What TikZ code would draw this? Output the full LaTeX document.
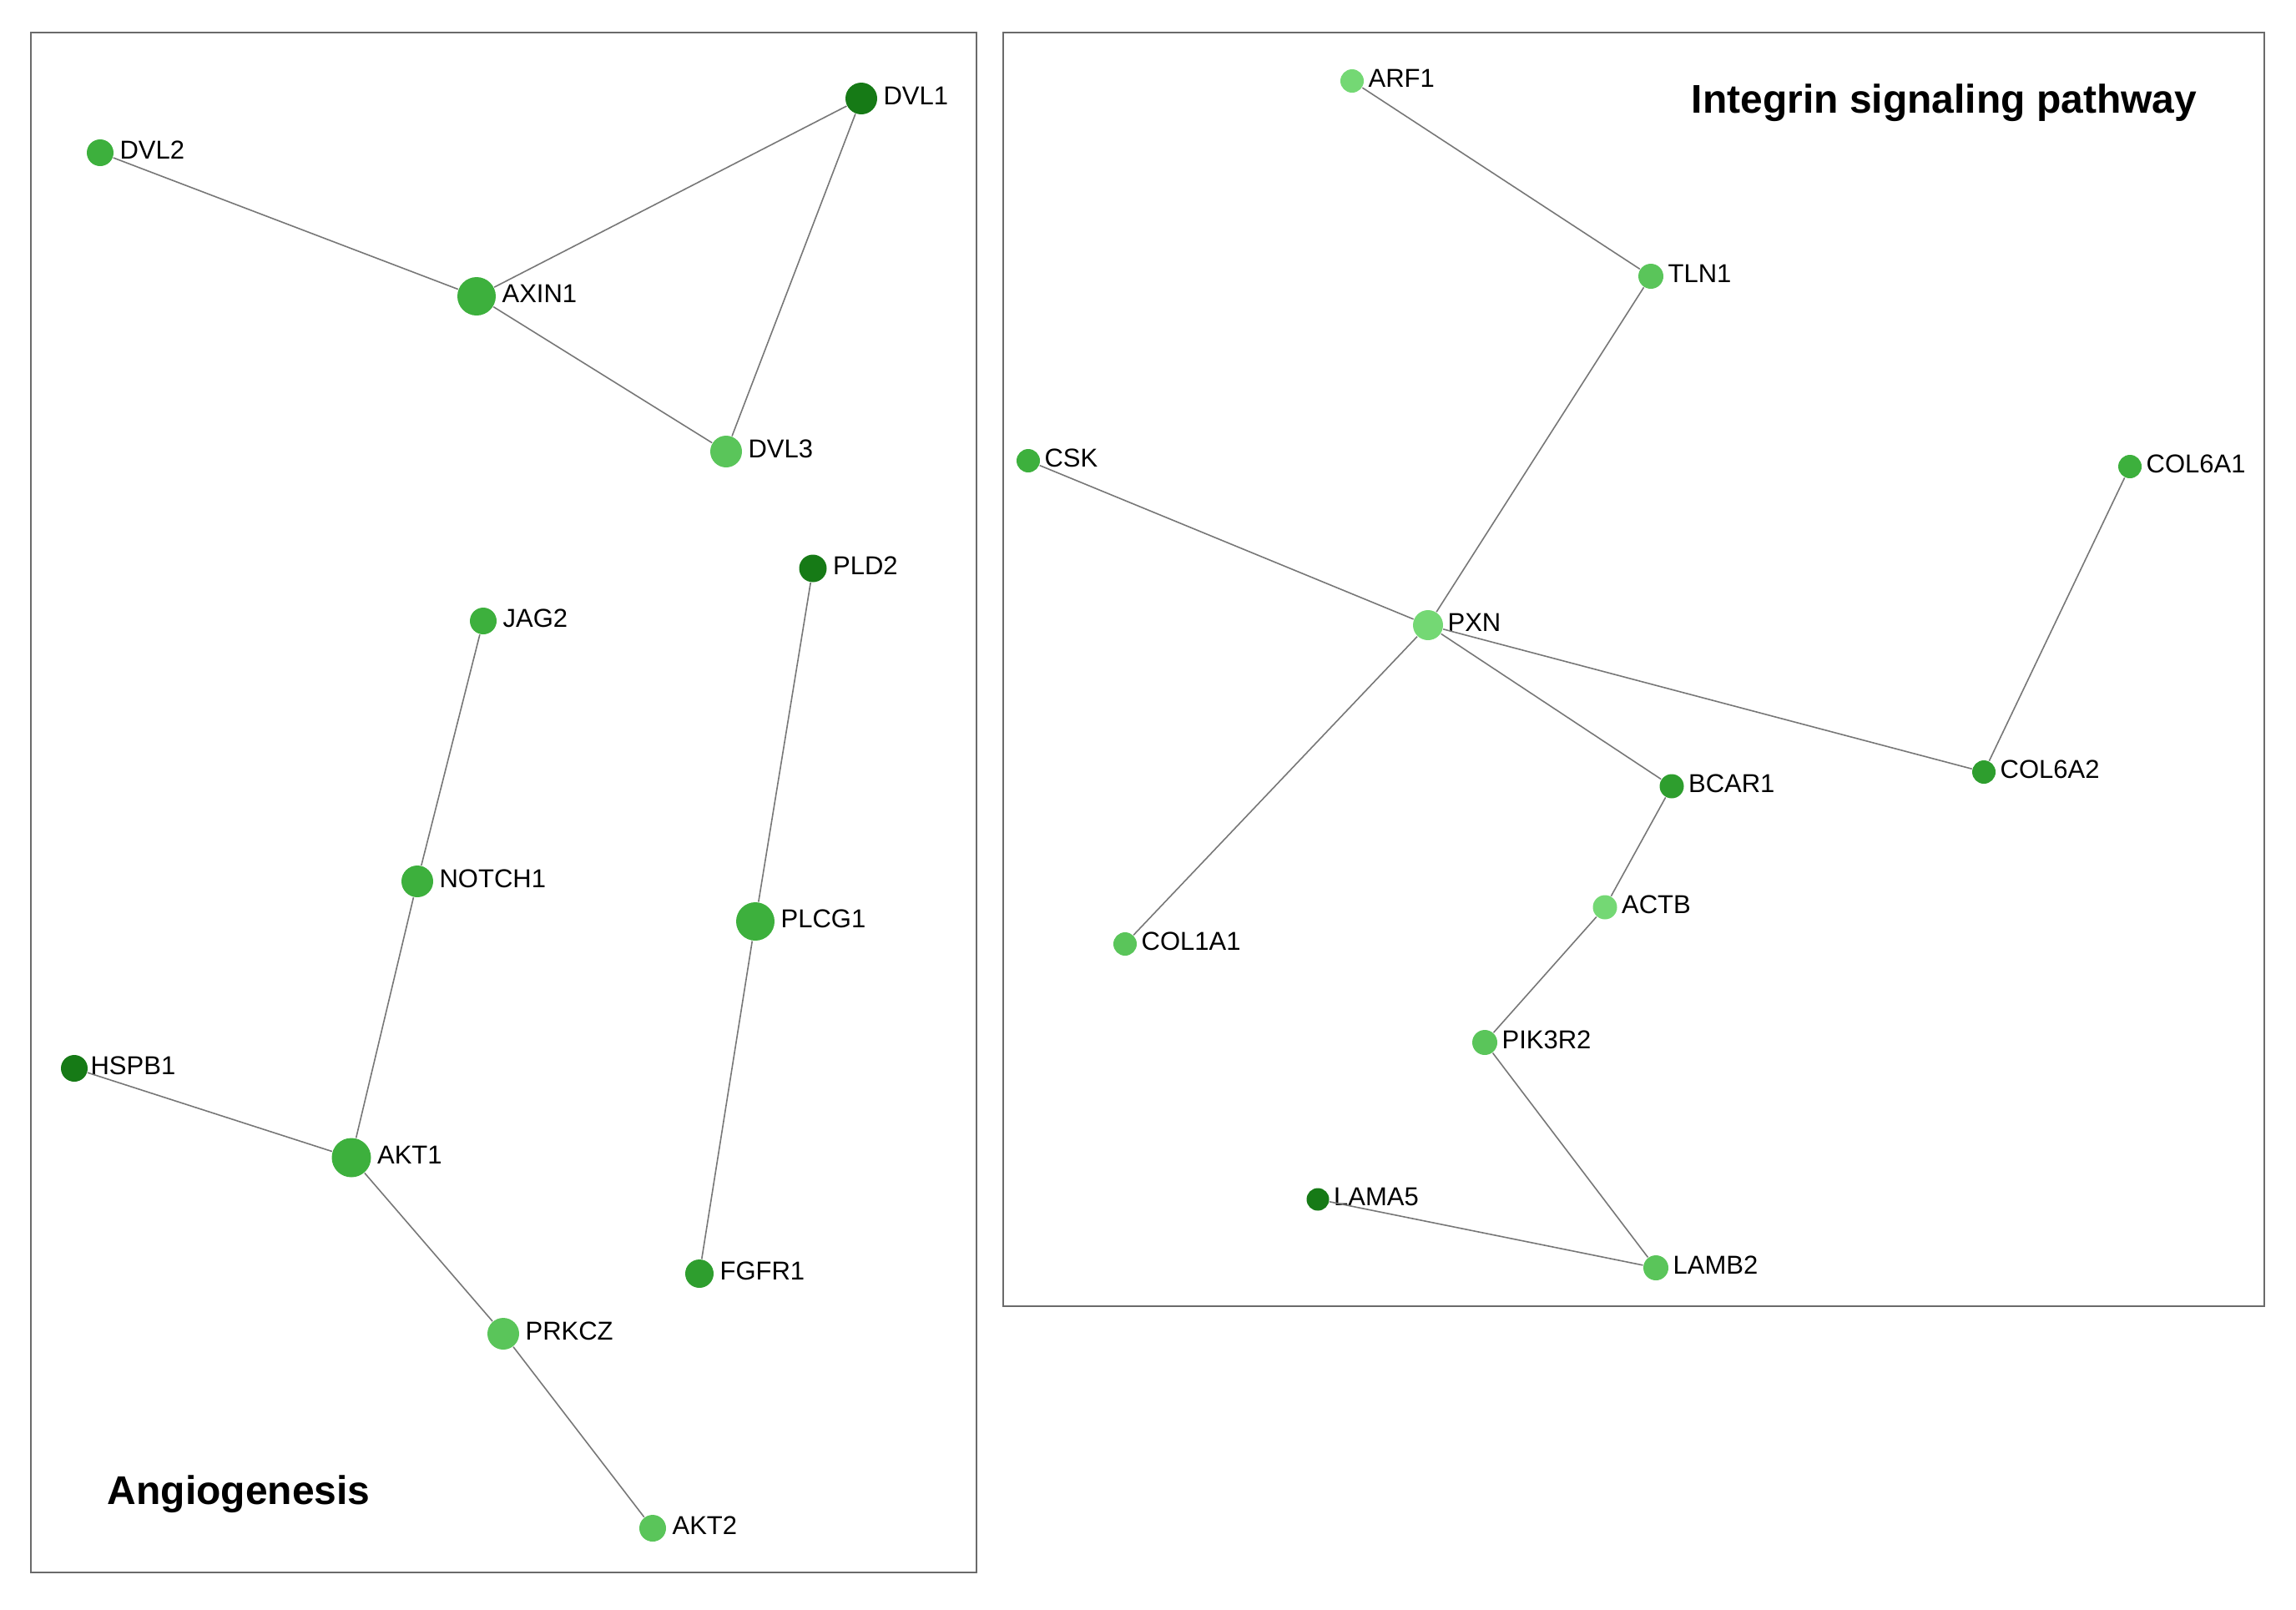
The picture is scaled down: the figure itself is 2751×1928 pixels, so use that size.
\documentclass[tikz,border=0pt]{standalone}
\usepackage{fontspec}
\setmainfont{Liberation Sans}
\definecolor{gDk}{HTML}{167A16}
\definecolor{gA}{HTML}{2E9E2E}
\definecolor{gB}{HTML}{3DB03D}
\definecolor{gC}{HTML}{5AC55A}
\definecolor{gD}{HTML}{74D874}
\definecolor{frameC}{HTML}{6A6A6A}
\definecolor{edgeC}{HTML}{777777}
\tikzset{
  gn/.style={circle, inner sep=0pt, draw=none, minimum size=#1*0.25pt},
  lbl/.style={font=\fontsize{7.75pt}{8pt}\selectfont, inner sep=0pt, text=black, yshift=0.8pt},
  ttl/.style={font=\fontsize{12pt}{14pt}\selectfont\bfseries, inner sep=0pt},
  edge/.style={draw=edgeC, line width=0.4pt},
  panel/.style={draw=frameC, line width=0.7pt}
}
\begin{document}
\begin{tikzpicture}[x=0.25pt, y=-0.25pt]
\useasboundingbox (0,0) rectangle (2751,1928);
% panels
\draw[panel] (37,39) rectangle (1170,1884);
\draw[panel] (1202,39) rectangle (2713,1565);
% titles
\node[ttl, anchor=west] (t1) at (128,1790) {Angiogenesis};
\node[ttl, anchor=west] (t2) at (2026,123) {Integrin signaling pathway};
% left panel nodes
\node[gn=38, fill=gDk, label={[lbl, anchor=west, label distance=1.5pt]east:DVL1}] (dvl1) at (1032,118) {};
\node[gn=32, fill=gB, label={[lbl, anchor=west, label distance=1.5pt]east:DVL2}] (dvl2) at (120,183) {};
\node[gn=46, fill=gB, label={[lbl, anchor=west, label distance=1.5pt]east:AXIN1}] (axin1) at (571,355) {};
\node[gn=38, fill=gC, label={[lbl, anchor=west, label distance=1.5pt]east:DVL3}] (dvl3) at (870,541) {};
\node[gn=32, fill=gB, label={[lbl, anchor=west, label distance=1.5pt]east:JAG2}] (jag2) at (579,744) {};
\node[gn=33, fill=gDk, label={[lbl, anchor=west, label distance=1.5pt]east:PLD2}] (pld2) at (974,681) {};
\node[gn=38, fill=gB, label={[lbl, anchor=west, label distance=1.5pt]east:NOTCH1}] (notch1) at (500,1056) {};
\node[gn=46, fill=gB, label={[lbl, anchor=west, label distance=1.5pt]east:PLCG1}] (plcg1) at (905,1104) {};
\node[gn=32, fill=gDk, label={[lbl, anchor=west, label distance=0.5pt]east:HSPB1}] (hspb1) at (89,1280) {};
\node[gn=47, fill=gB, label={[lbl, anchor=west, label distance=1.5pt]east:AKT1}] (akt1) at (421,1387) {};
\node[gn=34, fill=gA, label={[lbl, anchor=west, label distance=1.5pt]east:FGFR1}] (fgfr1) at (838,1526) {};
\node[gn=38, fill=gC, label={[lbl, anchor=west, label distance=1.5pt]east:PRKCZ}] (prkcz) at (603,1598) {};
\node[gn=32, fill=gC, label={[lbl, anchor=west, label distance=1.5pt]east:AKT2}] (akt2) at (782,1831) {};
% right panel nodes
\node[gn=28, fill=gD, label={[lbl, anchor=west, label distance=1pt]east:ARF1}] (arf1) at (1620,97) {};
\node[gn=30, fill=gC, label={[lbl, anchor=west, label distance=1pt]east:TLN1}] (tln1) at (1978,331) {};
\node[gn=28, fill=gB, label={[lbl, anchor=west, label distance=1pt]east:CSK}] (csk) at (1232,552) {};
\node[gn=28, fill=gB, label={[lbl, anchor=west, label distance=1pt]east:COL6A1}] (col6a1) at (2552,559) {};
\node[gn=36, fill=gD, label={[lbl, anchor=west, label distance=1pt]east:PXN}] (pxn) at (1711,749) {};
\node[gn=29, fill=gA, label={[lbl, anchor=west, label distance=1pt]east:BCAR1}] (bcar1) at (2003,942) {};
\node[gn=28, fill=gA, label={[lbl, anchor=west, label distance=1pt]east:COL6A2}] (col6a2) at (2377,925) {};
\node[gn=29, fill=gD, label={[lbl, anchor=west, label distance=1pt]east:ACTB}] (actb) at (1923,1087) {};
\node[gn=28, fill=gC, label={[lbl, anchor=west, label distance=1pt]east:COL1A1}] (col1a1) at (1348,1131) {};
\node[gn=30, fill=gC, label={[lbl, anchor=west, label distance=1pt]east:PIK3R2}] (pik3r2) at (1779,1249) {};
\node[gn=27, fill=gDk, label={[lbl, anchor=west, label distance=1pt]east:LAMA5}] (lama5) at (1579,1437) {};
\node[gn=30, fill=gC, label={[lbl, anchor=west, label distance=1pt]east:LAMB2}] (lamb2) at (1984,1519) {};
% edges left
\draw[edge] (dvl2) -- (axin1);
\draw[edge] (axin1) -- (dvl1);
\draw[edge] (axin1) -- (dvl3);
\draw[edge] (dvl1) -- (dvl3);
\draw[edge] (jag2) -- (notch1);
\draw[edge] (notch1) -- (akt1);
\draw[edge] (hspb1) -- (akt1);
\draw[edge] (akt1) -- (prkcz);
\draw[edge] (prkcz) -- (akt2);
\draw[edge] (pld2) -- (plcg1);
\draw[edge] (plcg1) -- (fgfr1);
% edges right
\draw[edge] (arf1) -- (tln1);
\draw[edge] (tln1) -- (pxn);
\draw[edge] (csk) -- (pxn);
\draw[edge] (pxn) -- (col1a1);
\draw[edge] (pxn) -- (bcar1);
\draw[edge] (pxn) -- (col6a2);
\draw[edge] (col6a2) -- (col6a1);
\draw[edge] (bcar1) -- (actb);
\draw[edge] (actb) -- (pik3r2);
\draw[edge] (pik3r2) -- (lamb2);
\draw[edge] (lama5) -- (lamb2);
\end{tikzpicture}
\end{document}
